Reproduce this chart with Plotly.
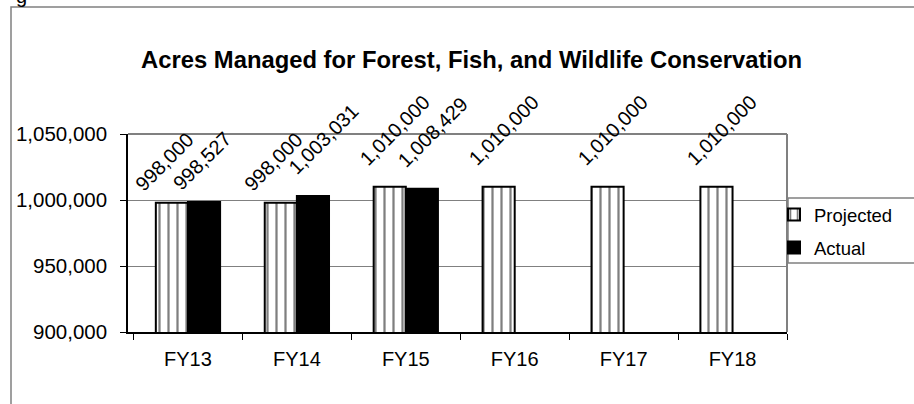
import plotly.graph_objects as go

categories = ["FY13", "FY14", "FY15", "FY16", "FY17", "FY18"]
projected = [998000, 998000, 1010000, 1010000, 1010000, 1010000]
actual = [998527, 1003031, 1008429, None, None, None]
series_names = ["Projected", "Actual"]
title_text = "Acres Managed for Forest, Fish, and Wildlife Conservation"
y_ticks = [900000, 950000, 1000000, 1050000]

FONT = "Liberation Sans, Arial, sans-serif"
W, H = 914, 404
L, R, T, B = 128, 127, 134, 72
PW, PH = W - L - R, H - T - B


def px_x(px):
    return (px - L) / PW


def px_y(py):
    return (H - B - py) / PH


fig = go.Figure()
fig.add_trace(go.Bar(
    name=series_names[0], x=categories, y=projected, legendgroup="p",
    marker=dict(color="white", line=dict(color="black", width=2),
                pattern=dict(shape="|", fgcolor="black", bgcolor="white", size=9, solidity=0.25)),
    offsetgroup="p",
))
fig.add_trace(go.Bar(
    name=series_names[1], x=categories, y=actual, legendgroup="a",
    marker=dict(color="black", line=dict(color="black", width=2)),
    offsetgroup="a",
))

# rotated data labels (offsets derived from label length, as the source places them)
for i, c in enumerate(categories):
    for j, vals in enumerate([projected, actual]):
        v = vals[i]
        if v is None:
            continue
        txt = f"{v:,}"
        n = len(txt)
        fig.add_annotation(
            x=i + (-0.146 if j == 0 else 0.146), y=v, xref="x", yref="y",
            text=txt, showarrow=False, textangle=-45,
            xanchor="center", yanchor="middle",
            yshift=8 * n - 15, xshift=6.5 * n - 53.5 + (6 if j == 1 else 0),
            font=dict(family=FONT, size=20, color="black"),
        )

# outer chart frame (cropped)
fig.add_shape(type="rect", xref="paper", yref="paper",
              x0=px_x(11), x1=px_x(940), y0=px_y(430), y1=px_y(7),
              line=dict(color="#808080", width=1.5), layer="below")
# legend frame (cropped)
fig.add_shape(type="rect", xref="paper", yref="paper",
              x0=px_x(788), x1=px_x(940), y0=px_y(263), y1=px_y(198),
              line=dict(color="#808080", width=1.5))
# plot-area frame: top and right gray
fig.add_shape(type="line", xref="paper", yref="paper", x0=0, x1=1, y0=1, y1=1,
              line=dict(color="#808080", width=2))
fig.add_shape(type="line", xref="paper", yref="paper", x0=1, x1=1, y0=0, y1=1,
              line=dict(color="#808080", width=2))

# cropped letter from text above the chart
fig.add_annotation(text="g", xref="paper", yref="paper", x=px_x(14), y=px_y(-17),
                   xanchor="left", yanchor="top", showarrow=False,
                   font=dict(family=FONT, size=20, color="black"))

fig.update_layout(
    width=W, height=H,
    margin=dict(l=L, r=R, t=T, b=B),
    paper_bgcolor="white", plot_bgcolor="white",
    title=dict(text=f"<b>{title_text}</b>", x=px_x(468), xanchor="center",
               y=1 - 60 / H, yanchor="middle",
               font=dict(family=FONT, size=23.8, color="black")),
    barmode="group", bargap=0.41, bargroupgap=0,
    font=dict(family=FONT, size=20, color="black"),
    showlegend=True,
    legend=dict(x=px_x(774), y=px_y(196), xanchor="left", yanchor="top",
                bgcolor="rgba(0,0,0,0)", borderwidth=0,
                font=dict(family=FONT, size=18.5, color="black"),
                itemwidth=30, tracegroupgap=6),
    xaxis=dict(type="category", showline=True, linecolor="black", linewidth=1.5,
               ticks="outside", tickson="boundaries", ticklen=6, tickcolor="black",
               ticklabelstandoff=8,
               showgrid=False, tickfont=dict(family=FONT, size=20, color="black")),
    yaxis=dict(range=[900000, 1050000], tickvals=y_ticks, tickformat=",",
               showline=True, linecolor="black", linewidth=1.5,
               ticks="outside", ticklen=6, tickcolor="black",
               ticklabelstandoff=9,
               showgrid=True, gridcolor="#808080", gridwidth=1.2,
               zeroline=False,
               tickfont=dict(family=FONT, size=20.5, color="black")),
)

fig.write_html("out.html", config={"displayModeBar": False},
               post_script="document.body.style.margin='0px';document.body.style.overflow='hidden';")
